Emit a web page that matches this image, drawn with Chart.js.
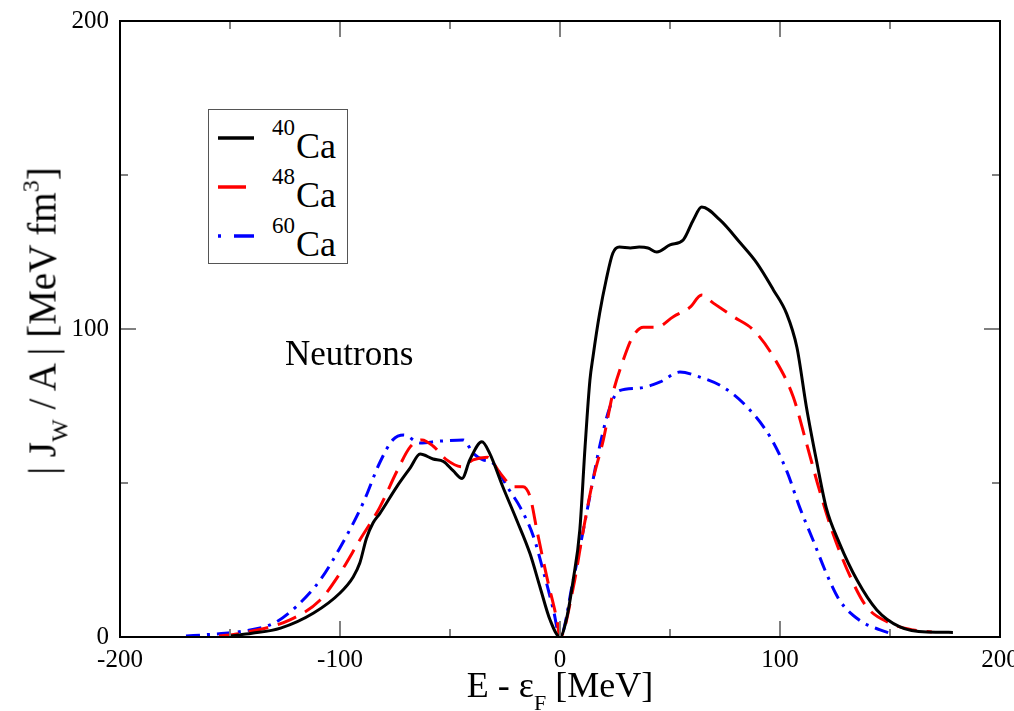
<!DOCTYPE html>
<html>
<head>
<meta charset="utf-8">
<script src="https://cdn.jsdelivr.net/npm/chart.js@4.4.1/dist/chart.umd.min.js"></script>
<style>
  body { margin: 0; background: #fff; }
  #wrap { position: relative; width: 1014px; height: 711px; font-family: "Liberation Serif", serif; color: #000; }
  canvas { position: absolute; left: 0; top: 0; }
  .t { position: absolute; white-space: nowrap; line-height: 1; }
  .lo { position: relative; }
  #legbox { position: absolute; left: 208px; top: 109px; width: 138px; height: 153px; border: 1.5px solid #555; background: #fff; }
</style>
</head>
<body>
<div id="wrap">
  <canvas id="chart" width="1014" height="711"></canvas>
  <div id="legbox"></div>
  <div class="t" style="left:285px; top:336px; font-size:35px;">Neutrons</div>
  <div class="t" style="left:560px; top:667px; font-size:36px; transform:translateX(-50%);">E - ε<span class="lo" style="font-size:22px; top:13px;">F</span> [MeV]</div>
  <div class="t" style="left:42px; top:321px; font-size:39px; transform:translate(-50%,-50%) rotate(-90deg);">| J<span class="lo" style="font-size:24px; top:12px;">W</span> / A | [MeV fm<span class="lo" style="font-size:24px; top:-17px;">3</span>]</div>
</div>
<script>
// isotopes
const massNumbers = ['40', '48', '60'];
const element = 'Ca';

// 40Ca (black, solid)
const ca40X = [-150, -140, -127, -112, -100, -94, -91, -88, -85, -82, -74, -68, -63.6, -57.7, -53, -48.6, -44.5, -41, -35.5, -32, -26, -19.7, -13.6, -9, -4.5, 0,
  3, 6, 9, 11.4, 13.6, 15, 18, 21, 24, 27, 32, 36, 40, 44, 50, 56, 60.6, 64.4, 72.7, 82, 89.5, 97, 103, 107.7, 112, 116.8, 121, 127, 135, 144, 154.5, 166.7, 178.6];
const ca40Y = [0.3, 1.2, 2.9, 7.8, 14.3, 19.5, 24, 32, 37, 40, 49, 55, 59.4, 57.8, 57, 54, 51.5, 57.5, 63.4, 59.7, 48.8, 38, 27, 16, 5.5, 0,
  6, 18.5, 34.7, 61.8, 83.4, 91, 105, 116, 124.6, 126.6, 126.3, 126.6, 126.3, 125, 127.3, 128.9, 135.4, 139.6, 135.4, 127.9, 121.4, 112.7, 105, 94, 74.7, 56.5, 42, 30.5, 18.5, 8.8, 3.3, 1.6, 1.5];

// 48Ca (red, dashed)
const ca48X = [-155, -145, -123, -109, -100, -91, -82, -74, -68, -62.7, -57.7, -51.5, -44.5, -39.5, -33, -27, -21, -16.8, -13.6, -10.5, -6, -1.4, 0,
  6, 10.6, 15, 19.7, 24, 28.8, 33, 37.9, 44, 51.5, 59, 64.4, 69.7, 78.8, 87.9, 97, 106, 112, 118, 124, 132, 139.5, 150, 160.5, 169];
const ca48Y = [0.3, 1.2, 5.5, 12, 20.7, 31.5, 42, 54, 61.8, 64, 62, 57.5, 55.3, 57.5, 58.4, 53, 48.8, 48.8, 45.5, 34.7, 19.5, 5.5, 0,
  16, 34.7, 51, 64, 79, 90, 97.4, 100.6, 100.6, 104, 107, 111, 108.4, 104, 99.7, 91, 78, 63, 47.5, 33.8, 19.5, 9.7, 4.5, 2.3, 1.6];

// 60Ca (blue, dash-dot)
const ca60X = [-170, -160, -147, -130, -120, -109, -100, -89.5, -82, -76, -71, -63.6, -54.5, -44, -39.5, -35, -30.5, -24, -18, -12, -7.7, -3, 0,
  6, 10.6, 15, 18, 22.7, 27, 36, 45.5, 54.5, 63.6, 74, 85, 95.5, 103, 109, 115, 121, 127, 136, 145.5, 152];
const ca60Y = [0.3, 0.8, 1.6, 4.5, 9.8, 18.5, 29, 43.5, 56.5, 64, 65.6, 63, 63.6, 64, 59.7, 57.5, 56.5, 48.8, 42, 32.5, 21.7, 8.8, 0,
  18.5, 34.7, 51, 61.8, 74.7, 80, 80.8, 82.8, 86, 84.4, 81.2, 74.7, 65, 54, 42, 31.5, 20.8, 12, 5.5, 2.3, 0.8];

const toPoints = (xs, ys) => xs.map((x, i) => ({ x, y: ys[i] }));

const series = [
  { mass: massNumbers[0], data: toPoints(ca40X, ca40Y), color: '#000000', dash: [] },
  { mass: massNumbers[1], data: toPoints(ca48X, ca48Y), color: '#ff0000', dash: [20, 10] },
  { mass: massNumbers[2], data: toPoints(ca60X, ca60Y), color: '#0000ff', dash: [14, 7, 3, 7] }
];

// ticks drawn inward on all four sides + frame
const framePlugin = {
  id: 'frame',
  afterDatasetsDraw(chart) {
    const { ctx, chartArea: a, scales: { x, y } } = chart;
    const seg = (x1, y1, x2, y2) => { ctx.beginPath(); ctx.moveTo(x1, y1); ctx.lineTo(x2, y2); ctx.stroke(); };
    ctx.save();
    ctx.strokeStyle = '#808080';
    ctx.lineWidth = 2;
    x.ticks.forEach(t => {
      const px = x.getPixelForValue(t.value);
      const len = t.value % 100 === 0 ? 16 : 8;
      seg(px, a.bottom, px, a.bottom - len);
      seg(px, a.top, px, a.top + len);
    });
    y.ticks.forEach(t => {
      const py = y.getPixelForValue(t.value);
      const len = t.value % 100 === 0 ? 16 : 8;
      seg(a.left, py, a.left + len, py);
      seg(a.right, py, a.right - len, py);
    });
    ctx.strokeStyle = '#000';
    ctx.lineWidth = 2;
    ctx.strokeRect(a.left, a.top, a.right - a.left, a.bottom - a.top);
    ctx.restore();
  }
};

Chart.defaults.font.family = 'Liberation Serif';
const tickFont = { family: 'Liberation Serif', size: 25 };
const majorOnly = v => (v % 100 === 0 ? String(v) : '');

function drawChart() {
  new Chart(document.getElementById('chart'), {
    type: 'line',
    data: {
      datasets: series.map(s => ({
        label: s.mass + element,
        data: s.data,
        borderColor: s.color,
        borderWidth: 3,
        borderDash: s.dash,
        pointRadius: 0,
        fill: false,
        cubicInterpolationMode: 'monotone'
      }))
    },
    options: {
      responsive: false,
      animation: false,
      devicePixelRatio: 1,
      layout: { padding: { left: 0, top: 21, right: 14, bottom: 0 } },
      plugins: { legend: { display: false }, tooltip: { enabled: false } },
      scales: {
        x: {
          type: 'linear',
          min: -200, max: 200,
          grid: { display: false },
          border: { display: false },
          ticks: { stepSize: 50, autoSkip: false, maxRotation: 0, color: '#000', font: tickFont, padding: 0, callback: majorOnly },
          afterFit: s => { s.height = 74; s.paddingLeft = 0; s.paddingRight = 0; }
        },
        y: {
          min: 0, max: 200,
          grid: { display: false },
          border: { display: false },
          ticks: { stepSize: 50, autoSkip: false, color: '#000', font: tickFont, padding: 3, callback: majorOnly },
          afterFit: s => { s.width = 120; s.paddingTop = 0; s.paddingBottom = 0; }
        }
      }
    },
    plugins: [framePlugin]
  });
}

document.fonts.load('25px "Liberation Serif"').then(drawChart, drawChart);

// legend box with superscript mass numbers
const wrap = document.getElementById('wrap');
const svgNS = 'http://www.w3.org/2000/svg';
series.forEach((s, i) => {
  const rowY = 138 + i * 49;
  const svg = document.createElementNS(svgNS, 'svg');
  svg.setAttribute('width', '40');
  svg.setAttribute('height', '8');
  svg.style.position = 'absolute';
  svg.style.left = '218px';
  svg.style.top = (rowY - 4) + 'px';
  const ln = document.createElementNS(svgNS, 'line');
  ln.setAttribute('x1', '0'); ln.setAttribute('x2', '36');
  ln.setAttribute('y1', '4'); ln.setAttribute('y2', '4');
  ln.setAttribute('stroke', s.color);
  ln.setAttribute('stroke-width', '3.5');
  if (i === 1) ln.setAttribute('stroke-dasharray', '28 100');
  if (i === 2) ln.setAttribute('stroke-dasharray', '3 13 20 100');
  svg.appendChild(ln);
  wrap.appendChild(svg);

  const lbl = document.createElement('div');
  lbl.className = 't';
  lbl.style.left = '272px';
  lbl.style.top = (157 + i * 49 - 29) + 'px';
  lbl.style.fontSize = '36px';
  lbl.innerHTML = '<span class="lo" style="font-size:23px; top:-23px; margin-right:1px;">' + s.mass + '</span>' + element;
  wrap.appendChild(lbl);
});
</script>
</body>
</html>
